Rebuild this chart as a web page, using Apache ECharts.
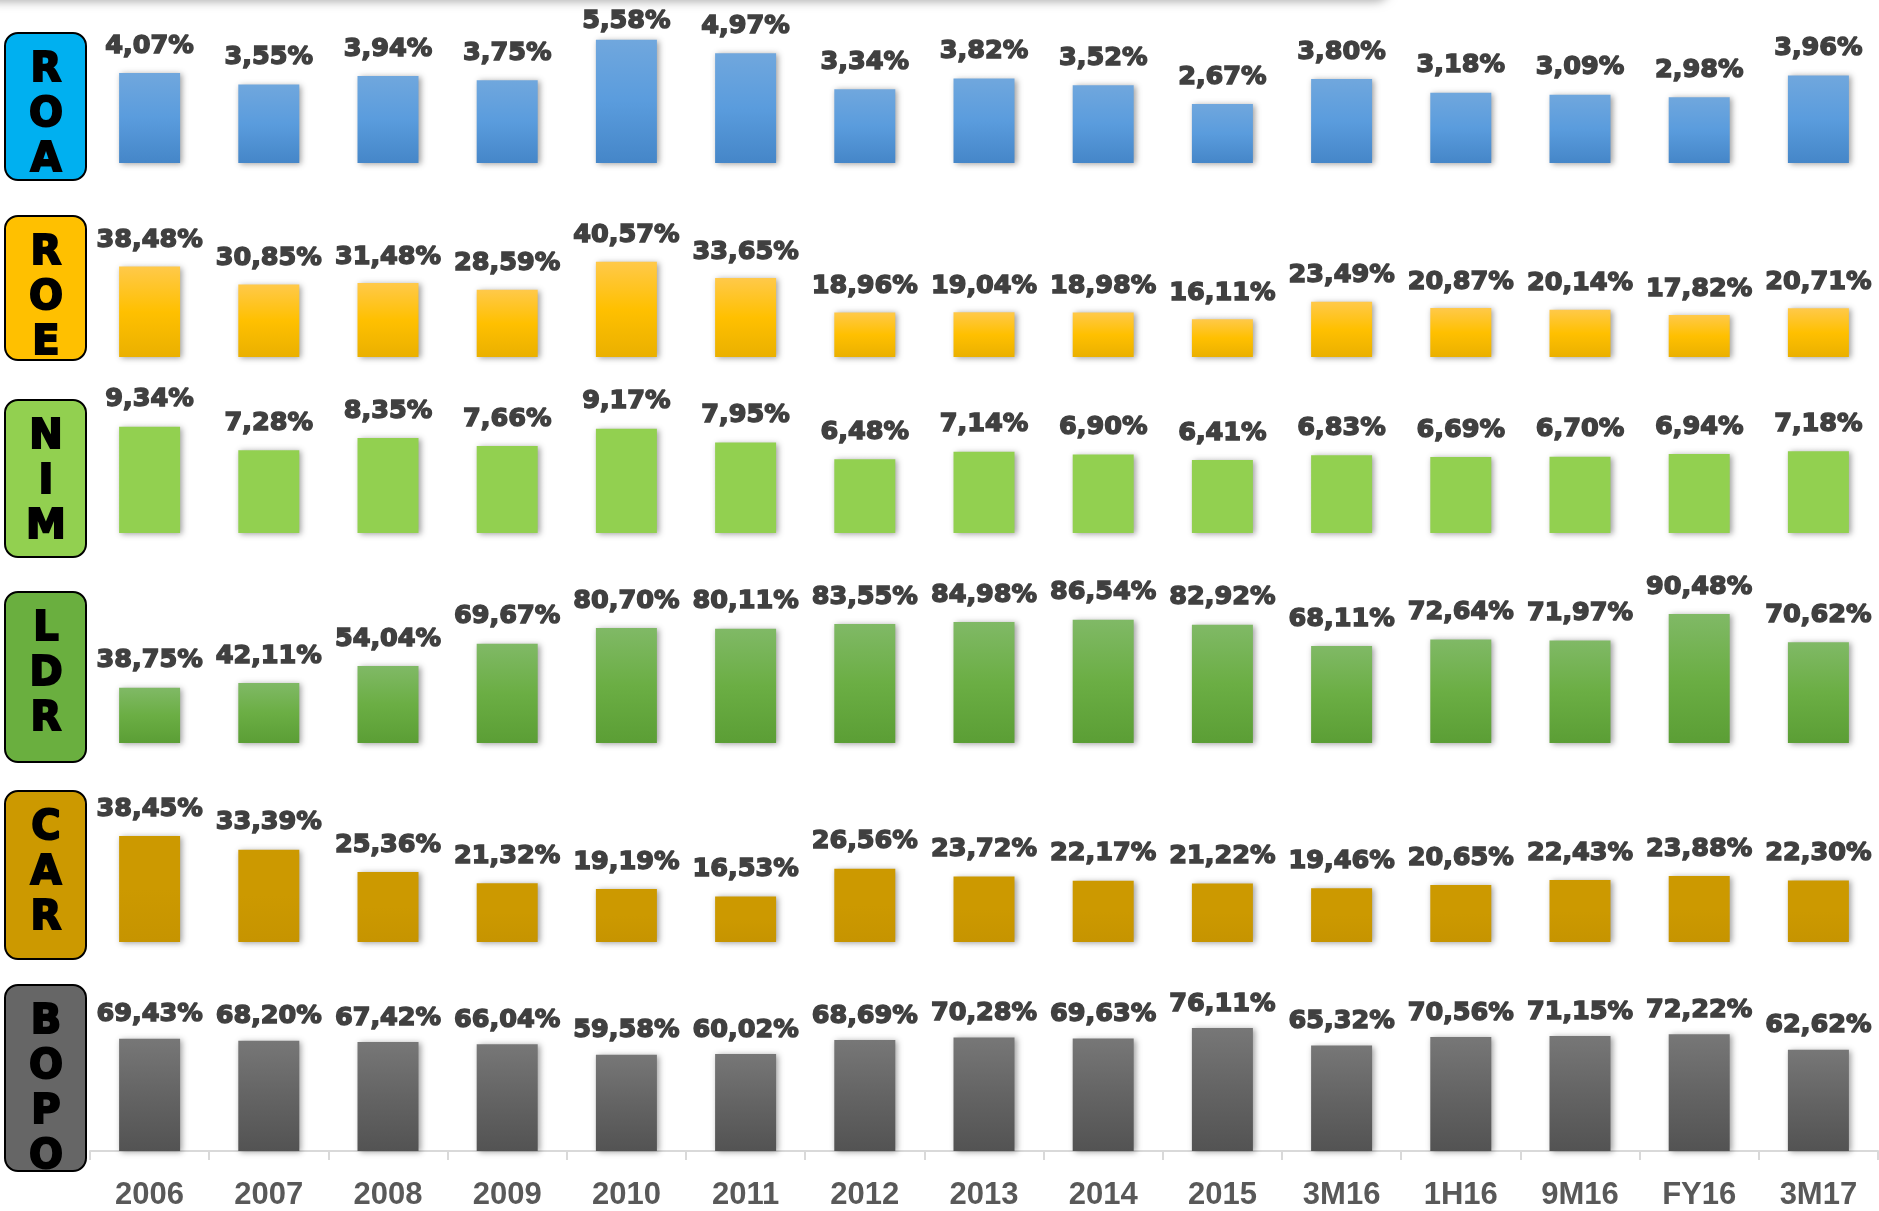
<!DOCTYPE html>
<html>
<head>
<meta charset="utf-8">
<title>Rasio Keuangan</title>
<script src="https://cdn.jsdelivr.net/npm/echarts@6/dist/echarts.min.js"></script>
<style>
  html, body { margin: 0; padding: 0; background: #ffffff; }
  #chart { width: 1879px; height: 1211px; }
</style>
</head>
<body>
<div id="chart"></div>
<script>
// Periods on the shared category axis
const periods = ['2006', '2007', '2008', '2009', '2010', '2011', '2012', '2013', '2014', '2015', '3M16', '1H16', '9M16', 'FY16', '3M17'];

// Ratio values (%) per period
const roa  = [4.07, 3.55, 3.94, 3.75, 5.58, 4.97, 3.34, 3.82, 3.52, 2.67, 3.80, 3.18, 3.09, 2.98, 3.96];
const roe  = [38.48, 30.85, 31.48, 28.59, 40.57, 33.65, 18.96, 19.04, 18.98, 16.11, 23.49, 20.87, 20.14, 17.82, 20.71];
const nim  = [9.34, 7.28, 8.35, 7.66, 9.17, 7.95, 6.48, 7.14, 6.90, 6.41, 6.83, 6.69, 6.70, 6.94, 7.18];
const ldr  = [38.75, 42.11, 54.04, 69.67, 80.70, 80.11, 83.55, 84.98, 86.54, 82.92, 68.11, 72.64, 71.97, 90.48, 70.62];
const car  = [38.45, 33.39, 25.36, 21.32, 19.19, 16.53, 26.56, 23.72, 22.17, 21.22, 19.46, 20.65, 22.43, 23.88, 22.30];
const bopo = [69.43, 68.20, 67.42, 66.04, 59.58, 60.02, 68.69, 70.28, 69.63, 76.11, 65.32, 70.56, 71.15, 72.22, 62.62];

// Panel layout and styling: value axis max, grid band (px), side badge box (px)
const panels = [
  { name: 'ROA',  data: roa,  max: 6,   top: 30.4,  height: 132.6, boxTop: 33,  boxH: 147, labelGap: 14,
    badge: '#00B0F0', bar: ['#70A7DD', '#5A9CDD', '#4586C8'] },
  { name: 'ROE',  data: roe,  max: 50,  top: 239.5, height: 117.5, boxTop: 216, boxH: 144, labelGap: 13,
    badge: '#FFC000', bar: ['#FFC94A', '#FFC000', '#EAB000'] },
  { name: 'NIM',  data: nim,  max: 10,  top: 419.3, height: 113.7, boxTop: 400, boxH: 157, labelGap: 14,
    badge: '#92D050', bar: ['#92D050', '#92D050', '#92D050'] },
  { name: 'LDR',  data: ldr,  max: 100, top: 600.5, height: 142.5, boxTop: 592, boxH: 170, labelGap: 14,
    badge: '#6AAF3F', bar: ['#80B966', '#6BAE44', '#5B9E35'] },
  { name: 'CAR',  data: car,  max: 45,  top: 817.8, height: 124.2, boxTop: 791, boxH: 168, labelGap: 14,
    badge: '#CC9900', bar: ['#CC9900', '#CC9900', '#C69400'] },
  { name: 'BOPO', data: bopo, max: 100, top: 989.5, height: 168.5, boxTop: 985, boxH: 186, labelGap: 11,
    badge: '#666666', bar: ['#777777', '#646464', '#535353'] }
];

const LABEL_H = 28;      // approximate height of a value label box
const PAGE_MARGIN = 6;   // labels are kept this far below the top edge

const fmt = v => v.toFixed(2).replace('.', ',') + '%';

const grids = [], xAxes = [], yAxes = [], series = [], graphics = [];

// Soft shadow strip along the top edge
graphics.push({
  type: 'rect',
  shape: { x: -20, y: -30, width: 1410, height: 30, r: 15 },
  style: { fill: '#ffffff', shadowBlur: 10, shadowColor: 'rgba(0,0,0,0.30)', shadowOffsetY: 2 },
  z: 10
});

panels.forEach((p, i) => {
  const last = i === panels.length - 1;
  grids.push({ left: 90, right: 1, top: p.top, height: p.height, containLabel: false });
  xAxes.push({
    type: 'category', gridIndex: i, data: periods,
    axisLine: { show: last, lineStyle: { color: '#D9D9D9', width: 2 } },
    axisTick: { show: last, length: 9, lineStyle: { color: '#D9D9D9', width: 2 } },
    axisLabel: {
      show: last, margin: 29, color: '#595959',
      fontFamily: 'Liberation Sans, Arial, sans-serif', fontWeight: 'bold', fontSize: 31
    },
    splitLine: { show: false }
  });
  yAxes.push({
    type: 'value', gridIndex: i, min: 0, max: p.max, show: false,
    splitLine: { show: false }
  });

  // Labels that would run off the top edge are tucked closer to their bar
  const items = p.data.map(v => {
    const barTop = p.top + p.height * (1 - v / p.max);
    const room = barTop - PAGE_MARGIN - LABEL_H;
    if (room < p.labelGap) {
      return { value: v, label: { distance: Math.max(2, room) } };
    }
    return v;
  });

  series.push({
    type: 'bar', name: p.name, xAxisIndex: i, yAxisIndex: i, data: items,
    barWidth: 61,
    itemStyle: {
      color: {
        type: 'linear', x: 0, y: 0, x2: 0, y2: 1,
        colorStops: [
          { offset: 0, color: p.bar[0] },
          { offset: 0.5, color: p.bar[1] },
          { offset: 1, color: p.bar[2] }
        ]
      },
      shadowBlur: 6, shadowColor: 'rgba(0,0,0,0.38)', shadowOffsetX: 2, shadowOffsetY: 1
    },
    label: {
      show: true, position: 'top', distance: p.labelGap,
      formatter: d => fmt(d.value),
      color: '#404040', fontFamily: 'DejaVu Sans, sans-serif', fontWeight: 'bold', fontSize: 25.5,
      textBorderColor: '#404040', textBorderWidth: 1.5
    },
    emphasis: { disabled: true },
    animation: false
  });

  // Side badge with the ratio name written vertically
  const letters = p.name.split('');
  const children = [{
    type: 'rect',
    shape: { x: 5, y: p.boxTop, width: 81, height: p.boxH, r: 13 },
    style: { fill: p.badge, stroke: '#000000', lineWidth: 2 }
  }];
  letters.forEach((ch, k) => {
    children.push({
      type: 'text',
      x: 46, y: p.boxTop + 38 + k * 45,
      style: {
        text: ch, fill: '#000000', align: 'center', verticalAlign: 'middle',
        font: 'bold 40px "DejaVu Sans", sans-serif',
        stroke: '#000000', lineWidth: 2
      }
    });
  });
  graphics.push({ type: 'group', children: children, z: 5 });
});

const chart = echarts.init(document.getElementById('chart'), null, { renderer: 'canvas' });
chart.setOption({
  backgroundColor: '#ffffff',
  animation: false,
  grid: grids,
  xAxis: xAxes,
  yAxis: yAxes,
  series: series,
  graphic: graphics
});
</script>
</body>
</html>
